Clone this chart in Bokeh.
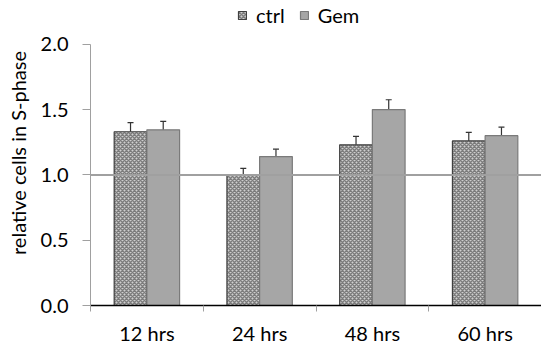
from bokeh.plotting import figure
from bokeh.models import (ColumnDataSource, Range1d, FixedTicker, Whisker, Span,
                          Legend, LegendItem, TeeHead, NumeralTickFormatter)
from bokeh.embed import file_html
from bokeh.resources import INLINE

categories = ["12 hrs", "24 hrs", "48 hrs", "60 hrs"]
ctrl = [1.33, 1.00, 1.23, 1.26]
ctrl_err = [0.07, 0.05, 0.065, 0.065]
gem = [1.345, 1.14, 1.50, 1.30]
gem_err = [0.065, 0.057, 0.075, 0.065]
y_ticks = [0.0, 0.5, 1.0, 1.5, 2.0]

FONT = "Lato"
bw = 0.29
centers = [i + 0.5 for i in range(len(categories))]

src_c = ColumnDataSource(dict(x=[c - bw / 2 for c in centers], top=ctrl,
                              lo=[v - e for v, e in zip(ctrl, ctrl_err)],
                              hi=[v + e for v, e in zip(ctrl, ctrl_err)]))
src_g = ColumnDataSource(dict(x=[c + bw / 2 for c in centers], top=gem,
                              lo=[v - e for v, e in zip(gem, gem_err)],
                              hi=[v + e for v, e in zip(gem, gem_err)]))

# frame runs to the top of the canvas; extra headroom above 2.0 holds the legend
p = figure(width=541, height=347, output_backend="svg", toolbar_location=None,
           x_range=Range1d(0, len(categories)), y_range=Range1d(0, 2.335),
           min_border_left=90, min_border_right=0, min_border_top=0, min_border_bottom=40)
p.outline_line_color = None
p.grid.grid_line_color = None
p.background_fill_color = "white"

r_c = p.vbar(x="x", top="top", width=bw, source=src_c, fill_color="#cfcfcf",
             hatch_pattern="diagonal_cross", hatch_color="#7c7c7c", hatch_scale=4,
             hatch_weight=1.5, line_color="#404040", line_width=1.2)
r_g = p.vbar(x="x", top="top", width=bw, source=src_g, fill_color="#a6a6a6",
             line_color="#7a7a7a", line_width=1.2)

for src in (src_c, src_g):
    w = Whisker(base="x", lower="lo", upper="hi", source=src, line_color="#333333",
                line_width=1.2,
                upper_head=TeeHead(size=6, line_color="#333333", line_width=1.2),
                lower_head=TeeHead(size=6, line_color="#333333", line_width=1.2))
    p.add_layout(w)

p.add_layout(Span(location=1.0, dimension="width", line_color="#a0a0a0", line_width=2))

# x axis
xa = p.xaxis[0]
xa.ticker = FixedTicker(ticks=centers, minor_ticks=list(range(len(categories) + 1)))
xa.major_label_overrides = {c: lab for c, lab in zip(centers, categories)}
xa.major_tick_line_color = None
xa.minor_tick_line_color = "#a0a0a0"
xa.minor_tick_out = 6
xa.minor_tick_in = 0
xa.axis_line_color = "black"
xa.axis_line_width = 1.3
xa.major_label_text_font = FONT
xa.major_label_text_font_size = "20px"
xa.major_label_text_color = "black"
xa.major_label_standoff = 9

# y axis
ya = p.yaxis[0]
ya.ticker = FixedTicker(ticks=y_ticks)
ya.bounds = (0, 2.0)
ya.formatter = NumeralTickFormatter(format="0.0")
ya.axis_line_color = "#a0a0a0"
ya.major_tick_line_color = "#a0a0a0"
ya.major_tick_out = 8
ya.major_tick_in = 0
ya.minor_tick_line_color = None
ya.major_label_text_font = FONT
ya.major_label_text_font_size = "20px"
ya.major_label_text_color = "black"
ya.major_label_standoff = 14
ya.axis_label = "relative cells in S-phase"
ya.axis_label_text_font = FONT
ya.axis_label_text_font_size = "20px"
ya.axis_label_text_font_style = "normal"
ya.axis_label_text_color = "black"
ya.axis_label_standoff = 8

legend = Legend(items=[LegendItem(label="ctrl", renderers=[r_c]),
                       LegendItem(label="Gem", renderers=[r_g])],
                orientation="horizontal", location=(147, 278),
                label_text_font=FONT, label_text_font_size="20px",
                label_text_color="black",
                glyph_width=10, glyph_height=10, spacing=14, label_standoff=9,
                padding=0, margin=0, border_line_color=None,
                background_fill_alpha=0)
p.add_layout(legend, "center")

open("out.html", "w").write(file_html(p, INLINE))
